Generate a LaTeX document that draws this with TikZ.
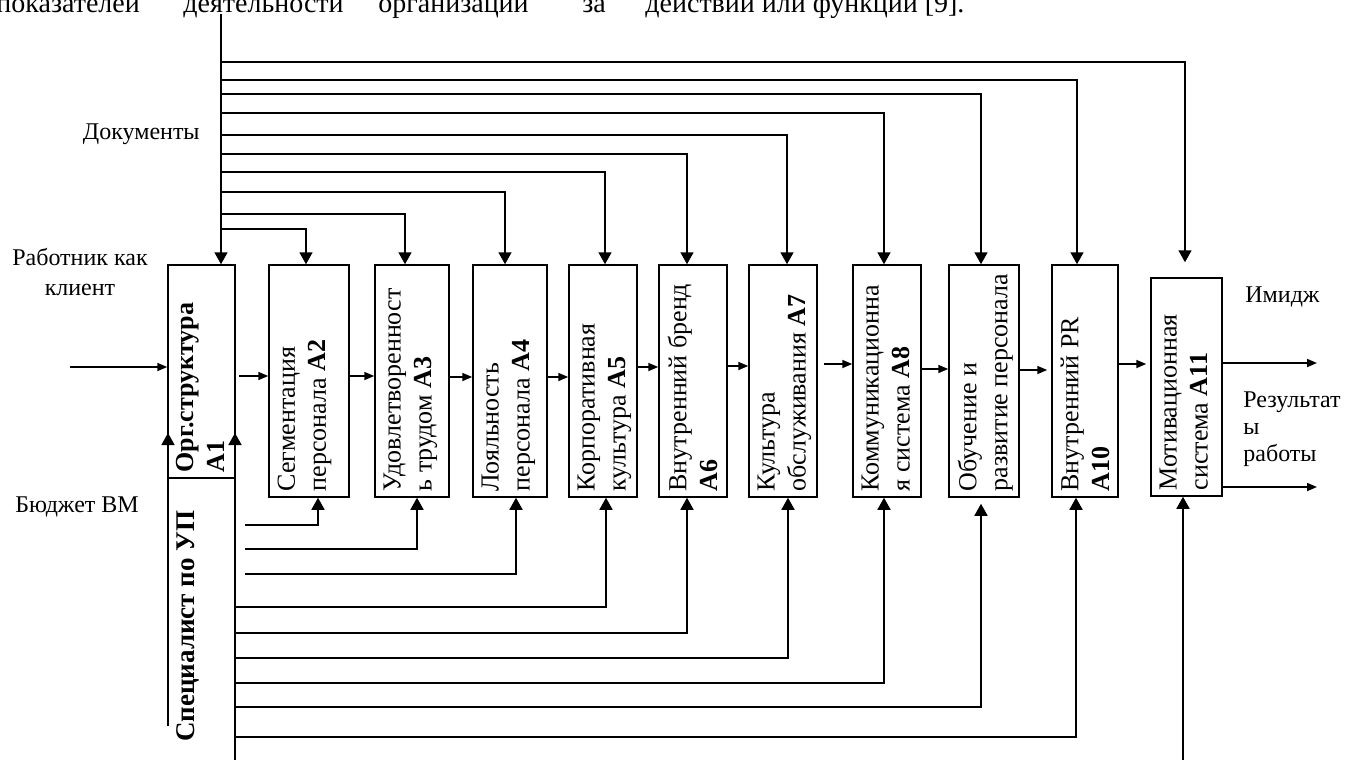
\documentclass[tikz,border=0pt]{standalone}
\usepackage{fontspec}
\setmainfont{Liberation Serif}
\usetikzlibrary{arrows.meta}

\tikzset{
  blk/.style={draw, line width=0.75pt, inner sep=0pt},
  txt/.style={rotate=90, anchor=north west, align=left, inner xsep=3pt, inner ysep=4.5pt,
    font=\fontsize{13}{15.5}\selectfont},
  lbl/.style={inner sep=0pt, font=\fontsize{12}{15}\selectfont},
  ctl/.style={line width=0.85pt, -{Triangle[length=6pt,width=6.5pt]}},
  flw/.style={line width=0.85pt, -{Triangle[length=5pt,width=4pt]}}
}

\begin{document}
\begin{tikzpicture}[x=0.5pt, y=-0.5pt]
    \useasboundingbox (0,0) rectangle (1345,760);
    \clip (0,0) rectangle (1345,760);

    % page text above the figure
    \begin{scope}[font=\fontsize{14}{16}\selectfont]
      \node[anchor=base west, inner sep=0pt] (w1) at (-4,12.5) {показателей};
      \node[anchor=base west, inner sep=0pt] (w2) at (183,12.5) {деятельности};
      \node[anchor=base west, inner sep=0pt] (w3) at (378,12.5) {организации};
      \node[anchor=base west, inner sep=0pt] (w4) at (582,12.5) {за};
      \node[anchor=base west, inner sep=0pt] (w5) at (645,12.5) {действий или функций [9].};
    \end{scope}

    % blocks
    \node[blk, minimum width=33.5pt, minimum height=106.5pt] (a1) at (201.5,371.5) {};
    \node[blk, minimum width=40pt, minimum height=116pt] (a2) at (309,381) {};
    \node[blk, minimum width=37pt, minimum height=116pt] (a3) at (412,381) {};
    \node[blk, minimum width=37pt, minimum height=116pt] (a4) at (510,381) {};
    \node[blk, minimum width=34pt, minimum height=116pt] (a5) at (603,381) {};
    \node[blk, minimum width=34pt, minimum height=116pt] (a6) at (693,381) {};
    \node[blk, minimum width=34pt, minimum height=116pt] (a7) at (783,381) {};
    \node[blk, minimum width=34pt, minimum height=116pt] (a8) at (887,381) {};
    \node[blk, minimum width=35pt, minimum height=116pt] (a9) at (984,381) {};
    \node[blk, minimum width=33pt, minimum height=116pt] (a10) at (1085,381) {};
    \node[blk, minimum width=35.5pt, minimum height=109pt] (a11) at (1186.5,387) {};

    \node[txt] (t1) at (a1.south west) {\textbf{Орг.структура}\\\textbf{A1}};
    \node[txt] (t2) at (a2.south west) {Сегментация\\персонала \textbf{A2}};
    \node[txt] (t3) at (a3.south west) {Удовлетворенност\\ь трудом \textbf{A3}};
    \node[txt] (t4) at (a4.south west) {Лояльность\\персонала \textbf{A4}};
    \node[txt] (t5) at (a5.south west) {Корпоративная\\культура \textbf{A5}};
    \node[txt] (t6) at (a6.south west) {Внутренний бренд\\\textbf{A6}};
    \node[txt] (t7) at (a7.south west) {Культура\\обслуживания \textbf{A7}};
    \node[txt] (t8) at (a8.south west) {Коммуникационна\\я система \textbf{A8}};
    \node[txt] (t9) at (a9.south west) {Обучение и\\развитие персонала};
    \node[txt] (t10) at (a10.south west) {Внутренний PR\\\textbf{A10}};
    \node[txt] (t11) at (a11.south west) {Мотивационная\\система \textbf{A11}};

    % labels
    \node[lbl, align=center] (client) at (80,272) {Работник как\\клиент};
    \node[lbl] (budget) at (77,507) {Бюджет ВМ};
    \node[lbl, anchor=east] (docsl) at (200,134) {Документы};
    \node[lbl, anchor=west] (image) at (1245,297) {Имидж};
    \node[lbl, anchor=west, align=left, font=\fontsize{12}{13.5}\selectfont] (result) at (1243,429) {Результат\\ы\\работы};
    \node[lbl, rotate=90, font=\bfseries\fontsize{13.5}{15}\selectfont] (spec) at (188,626) {Специалист по УП};

    \coordinate (docs) at (221,14);
    \coordinate (mech) at (235,760);
    \coordinate (spl) at (168,726);
    \coordinate (inp) at (70,367);
    \coordinate (mot) at (1183,760);
    \coordinate (out1) at (1317,363);
    \coordinate (out2) at (1317,487);

    % controls (documents)
    \draw[ctl] (docs) -- (docs |- a1.north);
    \draw[ctl] (docs |- 0,229) -| (a2.north -| 306,0);
    \draw[ctl] (docs |- 0,214) -| (a3.north -| 405,0);
    \draw[ctl] (docs |- 0,192) -| (a4.north -| 505,0);
    \draw[ctl] (docs |- 0,172) -| (a5.north -| 605,0);
    \draw[ctl] (docs |- 0,154) -| (a6.north -| 687,0);
    \draw[ctl] (docs |- 0,135) -| (a7.north -| 787,0);
    \draw[ctl] (docs |- 0,113) -| (a8.north -| 884,0);
    \draw[ctl] (docs |- 0,94) -| (a9.north -| 981,0);
    \draw[ctl] (docs |- 0,80) -| (a10.north -| 1077,0);
    \draw[ctl, shorten >=7.5pt] (docs |- 0,62) -| (a11.north -| 1185,0);

    % flow between blocks
    \draw[flw] (inp) -- (inp -| a1.west);
    \draw[flw, shorten <=1.5pt] (a1.east |- 0,376) -- (a2.west |- 0,376);
    \draw[flw] (a2.east |- 0,376) -- (a3.west |- 0,376);
    \draw[flw] (a3.east |- 0,377) -- (a4.west |- 0,377);
    \draw[flw] (a4.east |- 0,377) -- (a5.west |- 0,377);
    \draw[flw] (a5.east |- 0,367) -- (a6.west |- 0,367);
    \draw[flw] (a6.east |- 0,366) -- (a7.west |- 0,366);
    \draw[flw, shorten <=3pt] (a7.east |- 0,364) -- (a8.west |- 0,364);
    \draw[flw] (a8.east |- 0,369) -- (a9.west |- 0,369);
    \draw[flw, shorten >=2pt] (a9.east |- 0,370) -- (a10.west |- 0,370);
    \draw[flw, shorten >=2pt] (a10.east |- 0,364) -- (a11.west |- 0,364);
    \draw[flw] (a11.east |- out1) -- (out1);
    \draw[flw] (a11.east |- out2) -- (out2);

    % mechanisms (specialist, budget)
    \draw[ctl] (spl) -- (spl |- 0,433);
    \draw[ctl] (mech) -- (mech |- 0,433);
    \draw[ctl, shorten <=5pt] (mech |- 0,525) -| (a2.south -| 318,0);
    \draw[ctl, shorten <=5pt] (mech |- 0,549) -| (a3.south -| 417,0);
    \draw[ctl, shorten <=5pt] (mech |- 0,574) -| (a4.south -| 516,0);
    \draw[ctl] (mech |- 0,607) -| (a5.south -| 606,0);
    \draw[ctl] (mech |- 0,633) -| (a6.south -| 687,0);
    \draw[ctl] (mech |- 0,658) -| (a7.south -| 788,0);
    \draw[ctl] (mech |- 0,683) -| (a8.south -| 884,0);
    \draw[ctl, shorten >=3pt] (mech |- 0,707) -| (a9.south -| 981,0);
    \draw[ctl] (mech |- 0,737) -| (a10.south -| 1076,0);
    \draw[ctl] (mot) -- (a11.south -| mot);
\end{tikzpicture}
\end{document}
